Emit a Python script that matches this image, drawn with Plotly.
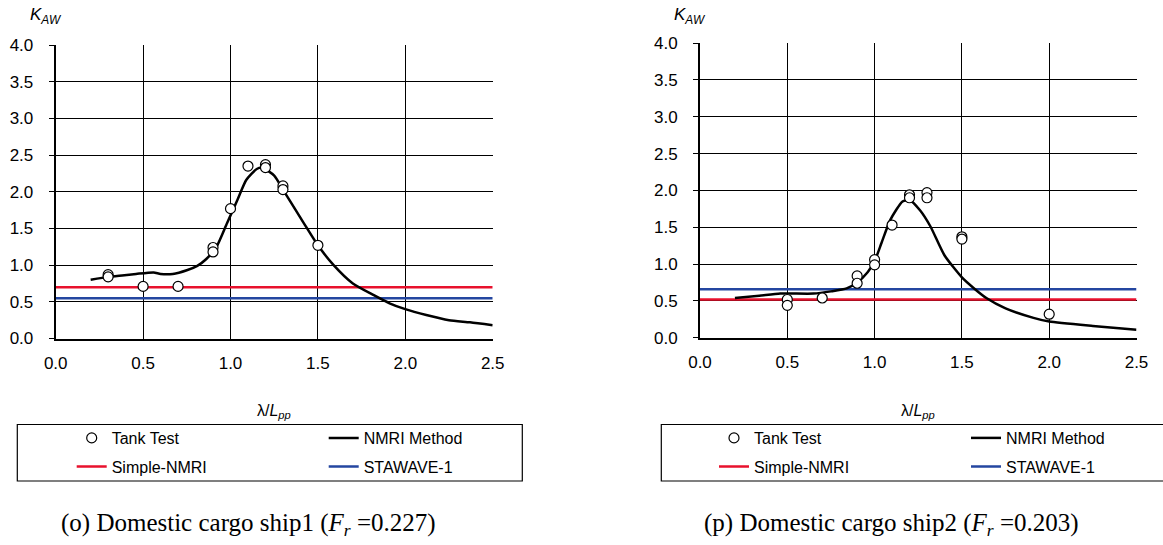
import plotly.graph_objects as go

W, H = 1163, 545

# ---------------- data ----------------
# (o) Domestic cargo ship1
tank1_x = [0.3, 0.3, 0.5, 0.7, 0.9, 0.9, 1.0, 1.1, 1.2, 1.2, 1.3, 1.3, 1.5]
tank1_y = [0.87, 0.84, 0.71, 0.71, 1.24, 1.18, 1.77, 2.35, 2.37, 2.33, 2.08, 2.03, 1.27]
nmri1_x = [0.20, 0.30, 0.38, 0.46, 0.56, 0.60, 0.67, 0.75, 0.81, 0.86, 0.92, 0.98, 1.04,
           1.09, 1.15, 1.18, 1.25, 1.30, 1.42, 1.50, 1.59, 1.70, 1.82, 1.91, 2.00, 2.12,
           2.25, 2.37, 2.50]
nmri1_y = [0.80, 0.84, 0.86, 0.88, 0.90, 0.88, 0.88, 0.93, 0.99, 1.08, 1.25, 1.57, 1.89,
           2.16, 2.31, 2.33, 2.22, 2.03, 1.57, 1.27, 1.00, 0.75, 0.59, 0.48, 0.40, 0.32,
           0.25, 0.22, 0.18]
simple1 = 0.70
stawave1 = 0.55

# (p) Domestic cargo ship2
tank2_x = [0.5, 0.5, 0.7, 0.9, 0.9, 1.0, 1.0, 1.1, 1.2, 1.2, 1.3, 1.3, 1.5, 1.5, 2.0]
tank2_y = [0.52, 0.44, 0.54, 0.84, 0.74, 1.06, 0.99, 1.53, 1.94, 1.90, 1.97, 1.90, 1.37, 1.34, 0.32]
nmri2_x = [0.20, 0.34, 0.46, 0.65, 0.75, 0.84, 0.90, 0.96, 1.00, 1.04, 1.09, 1.16, 1.20,
           1.26, 1.32, 1.40, 1.50, 1.57, 1.64, 1.75, 1.91, 2.00, 2.25, 2.50]
nmri2_y = [0.54, 0.57, 0.60, 0.60, 0.63, 0.67, 0.75, 0.89, 1.04, 1.29, 1.60, 1.85, 1.87,
           1.73, 1.51, 1.12, 0.82, 0.67, 0.54, 0.40, 0.27, 0.22, 0.16, 0.11]
simple2 = 0.52
stawave2 = 0.66

x_range = [0.0, 2.5]
y_range = [0.0, 4.0]
tick_x = [0.0, 0.5, 1.0, 1.5, 2.0, 2.5]
tick_y = [0.0, 0.5, 1.0, 1.5, 2.0, 2.5, 3.0, 3.5, 4.0]

captions = ["(o) Domestic cargo ship1 (<i>F<sub>r</sub></i> =0.227)",
            "(p) Domestic cargo ship2 (<i>F<sub>r</sub></i> =0.203)"]

RED = "#E8112D"
BLUE = "#2446A0"
FONT = "Liberation Sans, Arial, sans-serif"
SERIF = "Liberation Serif, Times New Roman, serif"

def px(x):
    return x / W

def py(y):
    return 1 - y / H

fig = go.Figure()

panels = [
    dict(xa="x", ya="y", tx=tank1_x, ty=tank1_y, nx=nmri1_x, ny=nmri1_y,
         s=simple1, st=stawave1, lg=("legend", "legend2")),
    dict(xa="x2", ya="y2", tx=tank2_x, ty=tank2_y, nx=nmri2_x, ny=nmri2_y,
         s=simple2, st=stawave2, lg=("legend3", "legend4")),
]

for p in panels:
    fig.add_trace(go.Scatter(x=x_range, y=[p["s"], p["s"]], mode="lines",
                             line=dict(color=RED, width=2.5), name="Simple-NMRI",
                             xaxis=p["xa"], yaxis=p["ya"], legend=p["lg"][1], legendrank=1))
    fig.add_trace(go.Scatter(x=x_range, y=[p["st"], p["st"]], mode="lines",
                             line=dict(color=BLUE, width=2.5), name="STAWAVE-1",
                             xaxis=p["xa"], yaxis=p["ya"], legend=p["lg"][1], legendrank=2))
    fig.add_trace(go.Scatter(x=p["nx"], y=p["ny"], mode="lines",
                             line=dict(color="black", width=2.5, shape="spline", smoothing=0.6),
                             name="NMRI Method",
                             xaxis=p["xa"], yaxis=p["ya"], legend=p["lg"][0], legendrank=2))
    fig.add_trace(go.Scatter(x=p["tx"], y=p["ty"], mode="markers",
                             marker=dict(symbol="circle", size=10, color="white",
                                         line=dict(color="black", width=1.2)),
                             name="Tank Test",
                             xaxis=p["xa"], yaxis=p["ya"], legend=p["lg"][0], legendrank=1))

axis_common = dict(showgrid=True, gridcolor="black", gridwidth=1, zeroline=False,
                   showline=True, linecolor="black", linewidth=2,
                   tickfont=dict(family=FONT, size=17, color="black"),
                   tickformat=".1f", fixedrange=True)

xdom = [[55.7, 492.7], [700, 1136.5]]
ydom = [[45, 338.5], [43, 337.8]]

for i, (xa, ya) in enumerate([("xaxis", "yaxis"), ("xaxis2", "yaxis2")]):
    suffix = "" if i == 0 else "2"
    fig.update_layout(**{
        xa: dict(axis_common, domain=[px(xdom[i][0]), px(xdom[i][1])], range=x_range,
                 tickvals=tick_x, ticks="", anchor="y" + suffix, ticklabelstandoff=8),
        ya: dict(axis_common, domain=[py(ydom[i][1]), py(ydom[i][0])], range=y_range,
                 tickvals=tick_y, ticks="outside", ticklen=5, tickcolor="black",
                 anchor="x" + suffix, ticklabelstandoff=12),
    })

# legends (two rows per panel)
leg_common = dict(orientation="h", xanchor="left", yanchor="middle", borderwidth=0,
                  bgcolor="rgba(0,0,0,0)", entrywidth=207, entrywidthmode="pixels",
                  font=dict(family=FONT, size=16, color="black"), traceorder="normal")
leg_x = [71.7, 714.0]
fig.update_layout(
    legend=dict(leg_common, x=px(leg_x[0]), y=py(438)),
    legend2=dict(leg_common, x=px(leg_x[0]), y=py(466.5)),
    legend3=dict(leg_common, x=px(leg_x[1]), y=py(438)),
    legend4=dict(leg_common, x=px(leg_x[1]), y=py(466.5)),
)

shapes = []
for bx0, bx1 in [(17.3, 522.3), (661.3, 1166.3)]:
    shapes.append(dict(type="rect", xref="paper", yref="paper",
                       x0=px(bx0), x1=px(bx1), y0=py(481), y1=py(424.5),
                       line=dict(color="black", width=1.2), fillcolor="rgba(0,0,0,0)"))

annotations = []
for i in range(2):
    cx = (xdom[i][0] + xdom[i][1]) / 2
    annotations.append(dict(text="<i>K<sub>AW</sub></i>", xref="paper", yref="paper",
                            x=px(xdom[i][0] - 28), y=py(16), xanchor="left", yanchor="middle",
                            showarrow=False, font=dict(family=FONT, size=17, color="black")))
    annotations.append(dict(text="λ/<i>L<sub>pp</sub></i>", xref="paper", yref="paper",
                            x=px(cx), y=py(411), xanchor="center", yanchor="middle",
                            showarrow=False, font=dict(family=FONT, size=16, color="black")))
cap_cx = [248.3, 891.7]
for i in range(2):
    annotations.append(dict(text=captions[i], xref="paper", yref="paper",
                            x=px(cap_cx[i]), y=py(524), xanchor="center", yanchor="middle",
                            showarrow=False, font=dict(family=SERIF, size=25, color="black")))

fig.update_layout(width=W, height=H, margin=dict(l=0, r=0, t=0, b=0, autoexpand=False),
                  paper_bgcolor="white", plot_bgcolor="white",
                  shapes=shapes, annotations=annotations, showlegend=True,
                  font=dict(family=FONT, color="black"))

fig.write_html("out.html", config={"displayModeBar": False})
